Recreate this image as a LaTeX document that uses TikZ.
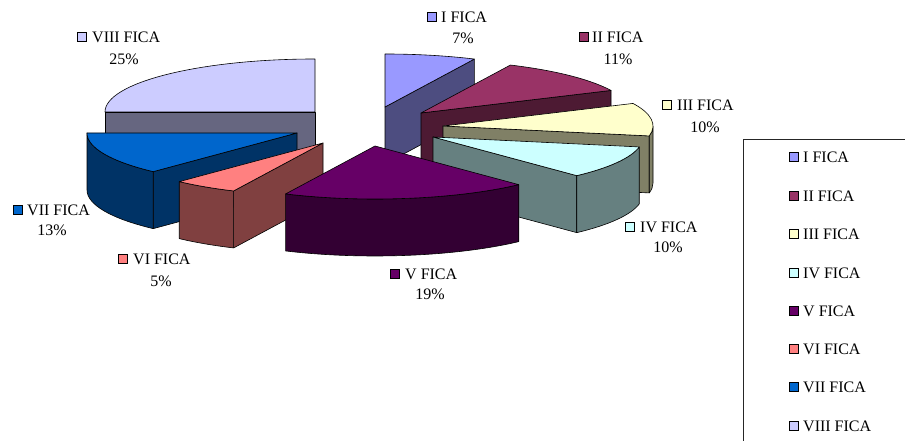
\documentclass[tikz,border=0pt]{standalone}
\usepackage{fontspec}
\setmainfont{Liberation Serif}
\usetikzlibrary{calc}
\definecolor{tI}{HTML}{9999FF}\definecolor{sI}{HTML}{4D4D80}
\definecolor{tII}{HTML}{993366}\definecolor{sII}{HTML}{4D1A33}
\definecolor{tIII}{HTML}{FFFFCC}\definecolor{sIII}{HTML}{808066}
\definecolor{tIV}{HTML}{CCFFFF}\definecolor{sIV}{HTML}{668080}
\definecolor{tV}{HTML}{660066}\definecolor{sV}{HTML}{330033}
\definecolor{tVI}{HTML}{FF8080}\definecolor{sVI}{HTML}{804040}
\definecolor{tVII}{HTML}{0066CC}\definecolor{sVII}{HTML}{003366}
\definecolor{tVIII}{HTML}{CCCCFF}\definecolor{sVIII}{HTML}{666680}
\tikzset{
  pieline/.style={draw=black,line width=0.6pt,line join=round},
  mk/.style={draw=black,line width=0.6pt,minimum size=9pt,inner sep=0pt},
  lbl/.style={anchor=west,inner sep=0pt},
  pct/.style={inner sep=0pt},
  legendline/.style={draw=black!85,line width=0.6pt}
}
\newcommand\pieTop[4]{\filldraw[pieline,fill=#4] (#1) -- ($(#1)+(#2:210pt and 53pt)$) arc[start angle=#2,end angle=#3,x radius=210pt,y radius=53pt] -- cycle;}
\newcommand\pieRad[3]{\filldraw[pieline,fill=#3] (#1) -- ($(#1)+(#2:210pt and 53pt)$) -- ++(0,-57) -- ($(#1)+(0,-57)$) -- cycle;}
\newcommand\pieOut[4]{\filldraw[pieline,fill=#4] ($(#1)+(#2:210pt and 53pt)$) arc[start angle=#2,end angle=#3,x radius=210pt,y radius=53pt] -- ++(0,-57) arc[start angle=#3,end angle=#2,x radius=210pt,y radius=53pt] -- cycle;}
\begin{document}
\begin{tikzpicture}[x=1pt,y=1pt,font=\fontsize{16}{19}\selectfont]
\useasboundingbox (0,0) rectangle (905,441);
\coordinate (c1) at (385,334);
\coordinate (c2) at (421,328);
\coordinate (c3) at (443,315);
\coordinate (c4) at (433,304);
\coordinate (c5) at (375,295);
\coordinate (c6) at (323,298);
\coordinate (c7) at (297,308);
\coordinate (c8) at (315,329);
% VIII
\pieRad{c8}{180}{sVIII}
\pieTop{c8}{180}{90}{tVIII}
% I
\pieRad{c1}{64.8}{sI}
\pieTop{c1}{90}{64.8}{tI}
% II
\pieRad{c2}{25.2}{sII}
\pieTop{c2}{64.8}{25.2}{tII}
% III
\pieRad{c3}{-10.8}{sIII}
\pieOut{c3}{0}{-10.8}{sIII}
\pieTop{c3}{25.2}{-10.8}{tIII}
% IV
\pieRad{c4}{-46.8}{sIV}
\pieOut{c4}{-10.8}{-46.8}{sIV}
\pieTop{c4}{-10.8}{-46.8}{tIV}
% VII
\pieRad{c7}{-133.2}{sVII}
\pieOut{c7}{-133.2}{-180}{sVII}
\pieTop{c7}{-133.2}{-180}{tVII}
% VI
\pieRad{c6}{-115.2}{sVI}
\pieOut{c6}{-115.2}{-133.2}{sVI}
\pieTop{c6}{-115.2}{-133.2}{tVI}
% V
\pieOut{c5}{-46.8}{-115.2}{sV}
\pieTop{c5}{-46.8}{-115.2}{tV}
% data labels
\node[mk,fill=tI] (dm1) at (432,424) {};
\node[lbl] (dn1) at (441,424) {I FICA};
\node[pct] (dp1) at (463,403) {7\%};
\node[mk,fill=tII] (dm2) at (584,404) {};
\node[lbl] (dn2) at (592,404) {II FICA};
\node[pct] (dp2) at (618,382) {11\%};
\node[mk,fill=tIII] (dm3) at (667,336) {};
\node[lbl] (dn3) at (677,336) {III FICA};
\node[pct] (dp3) at (705,314) {10\%};
\node[mk,fill=tIV] (dm4) at (630,214) {};
\node[lbl] (dn4) at (640,214) {IV FICA};
\node[pct] (dp4) at (668,194) {10\%};
\node[mk,fill=tV] (dm5) at (395,167) {};
\node[lbl] (dn5) at (405,167) {V FICA};
\node[pct] (dp5) at (430,147) {19\%};
\node[mk,fill=tVI] (dm6) at (123,182) {};
\node[lbl] (dn6) at (133,182) {VI FICA};
\node[pct] (dp6) at (161,160) {5\%};
\node[mk,fill=tVII] (dm7) at (18,231) {};
\node[lbl] (dn7) at (27,231) {VII FICA};
\node[pct] (dp7) at (52,211) {13\%};
\node[mk,fill=tVIII] (dm8) at (82,404) {};
\node[lbl] (dn8) at (92,404) {VIII FICA};
\node[pct] (dp8) at (124,382) {25\%};
% legend
\draw[legendline] (905,302) -- (743,302) -- (743,0);
\node[mk,fill=tI] (k1) at (794,284) {};
\node[lbl] (l1) at (803,284) {I FICA};
\node[mk,fill=tII] (k2) at (794,245) {};
\node[lbl] (l2) at (803,245) {II FICA};
\node[mk,fill=tIII] (k3) at (794,207) {};
\node[lbl] (l3) at (803,207) {III FICA};
\node[mk,fill=tIV] (k4) at (794,168) {};
\node[lbl] (l4) at (803,168) {IV FICA};
\node[mk,fill=tV] (k5) at (794,130) {};
\node[lbl] (l5) at (803,130) {V FICA};
\node[mk,fill=tVI] (k6) at (794,92) {};
\node[lbl] (l6) at (803,92) {VI FICA};
\node[mk,fill=tVII] (k7) at (794,54) {};
\node[lbl] (l7) at (803,54) {VII FICA};
\node[mk,fill=tVIII] (k8) at (794,15) {};
\node[lbl] (l8) at (803,15) {VIII FICA};
\end{tikzpicture}
\end{document}
